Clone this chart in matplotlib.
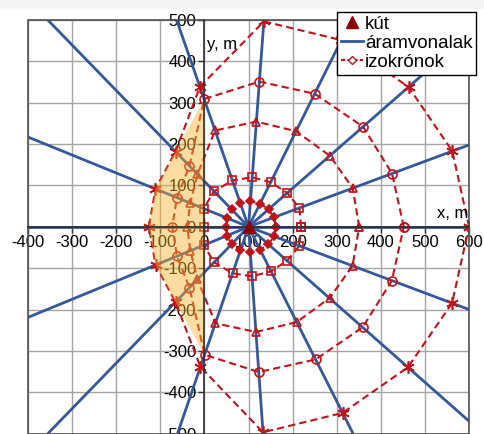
import matplotlib
matplotlib.use("Agg")
import matplotlib.pyplot as plt
import numpy as np
from matplotlib.lines import Line2D
from matplotlib.patches import Rectangle

plt.rcParams['font.family'] = ['Liberation Sans', 'DejaVu Sans']

# well position (m)
well_x = 100.0
well_y = 0.0

# streamline end points on the plot border, counter-clockwise from +x
stream_end_x = [600, 600, 600, 333, 135, -63, -355, -400,
                -400, -400, -355, -61, 133, 337, 600, 600]
stream_end_y = [0, 198, 466, 500, 500, 500, 500, 217,
                0, -219, -500, -500, -500, -500, -470, -200]

# isochrone distances from the well along each streamline (m)
iso_diamond = [62, 62, 62, 62, 62, 60, 57, 53, 50, 53, 57, 60, 62, 62, 62, 62]
iso_square = [119, 124, 120, 119, 120, 118, 116, 111, 100, 111, 116, 118, 120, 119, 120, 124]
iso_triangle = [251, 254, 252, 255, 255, 245, 172, 144, 139, 144, 172, 245, 255, 255, 252, 254]
iso_circle = [352, 350, 355, 355, 352, 325, 199, 177, 173, 177, 199, 325, 352, 355, 355, 350]
iso_star = [500, 497, 496, 498, 498, 356, 246, 230, 226, 230, 246, 356, 498, 498, 496, 497]

x_ticks = [-400, -300, -200, -100, 0, 100, 200, 300, 400, 500, 600]
y_ticks = [-500, -400, -300, -200, -100, 0, 100, 200, 300, 400, 500]

blue = '#34589A'
red = '#C0141C'

fig = plt.figure(figsize=(4.84, 4.34), dpi=100)
fig.patches.append(Rectangle((0, 0.982), 1, 0.018, transform=fig.transFigure,
                             color='#f5f5f5', zorder=0))
ax = fig.add_axes([0.0579, 0.001, 0.9112, 0.9528])
ax.set_xlim(-400, 600)
ax.set_ylim(-500, 500)

ex = np.array(stream_end_x, dtype=float)
ey = np.array(stream_end_y, dtype=float)
ang = np.arctan2(ey - well_y, ex - well_x)

# streamlines
for i in range(len(ex)):
    ax.plot([well_x, ex[i]], [well_y, ey[i]], color=blue, lw=2, zorder=2,
            solid_capstyle='butt')

# isochrones
def iso_xy(r):
    r = np.array(r, dtype=float)
    x = well_x + r * np.cos(ang)
    y = well_y + r * np.sin(ang)
    return np.append(x, x[0]), np.append(y, y[0])

iso_styles = [
    (iso_diamond, 'D', 4, red),
    (iso_square, 's', 6, 'none'),
    (iso_triangle, '^', 6, 'none'),
    (iso_circle, 'o', 6.5, 'none'),
    (iso_star, (6, 2, 0), 9, red),
]
for r, mk, ms, fc in iso_styles:
    x, y = iso_xy(r)
    ax.plot(x, y, color=red, lw=1.5, ls=(0, (3.5, 2)), marker=mk, ms=ms,
            mfc=fc, mec=red, mew=1.2, zorder=3)

# part of the outer isochrone beyond the river bank (x < 0)
cx, cy = iso_xy(iso_circle)
sx, sy = iso_xy(iso_star)
fill_x = [0] + list(sx[6:11]) + [0]
fill_y = [cy[5]] + list(sy[6:11]) + [cy[11]]
ax.fill(fill_x, fill_y, color='#F8B530', alpha=0.45, lw=0, zorder=4)

# well
ax.plot([well_x], [well_y], marker='^', ms=9, color='#8B0000', ls='none', zorder=6)

# axes through the origin
ax.spines['left'].set_position(('data', 0))
ax.spines['bottom'].set_position(('data', 0))
ax.spines['right'].set_visible(False)
ax.spines['top'].set_visible(False)
for s in ('left', 'bottom'):
    ax.spines[s].set_color('#303030')
    ax.spines[s].set_linewidth(1.2)
    ax.spines[s].set_zorder(5)
ax.add_patch(Rectangle((0, 0), 1, 1, transform=ax.transAxes, fill=False,
                       edgecolor='#505050', lw=1.2, zorder=5, clip_on=False))

ax.set_xticks(x_ticks)
ax.set_yticks(y_ticks)
ax.set_xticklabels([str(v) for v in x_ticks])
ax.set_yticklabels([str(v) for v in y_ticks])
ax.tick_params(axis='both', direction='out', length=4, width=1, color='#303030',
               labelsize=12, pad=2)
for lab in ax.get_xticklabels() + ax.get_yticklabels():
    lab.set_zorder(7)
ax.grid(True, color='#a5a5a5', lw=1)
ax.set_axisbelow(True)

ax.text(598, 14, 'x, m', fontsize=12, ha='right', va='bottom', zorder=7)
ax.text(6, 440, 'y, m', fontsize=12, ha='left', va='center', zorder=7)

handles = [
    Line2D([], [], marker='^', ls='none', color='#8B0000', ms=8),
    Line2D([], [], color=blue, lw=2),
    Line2D([], [], color=red, lw=1.5, ls=(0, (2, 1)), marker='D', ms=4.5,
           mfc='white', mec=red),
]
leg = fig.legend(handles, ['kút', 'áramvonalak', 'izokrónok'],
                 loc='upper left', bbox_to_anchor=(0.696, 0.972),
                 fontsize=13.5, frameon=True, fancybox=False, edgecolor='black',
                 framealpha=1, handlelength=1.2, handletextpad=0.1,
                 labelspacing=0.1, borderpad=0.2, borderaxespad=0)
leg.get_frame().set_linewidth(1)

fig.savefig('out.png', dpi=100)
